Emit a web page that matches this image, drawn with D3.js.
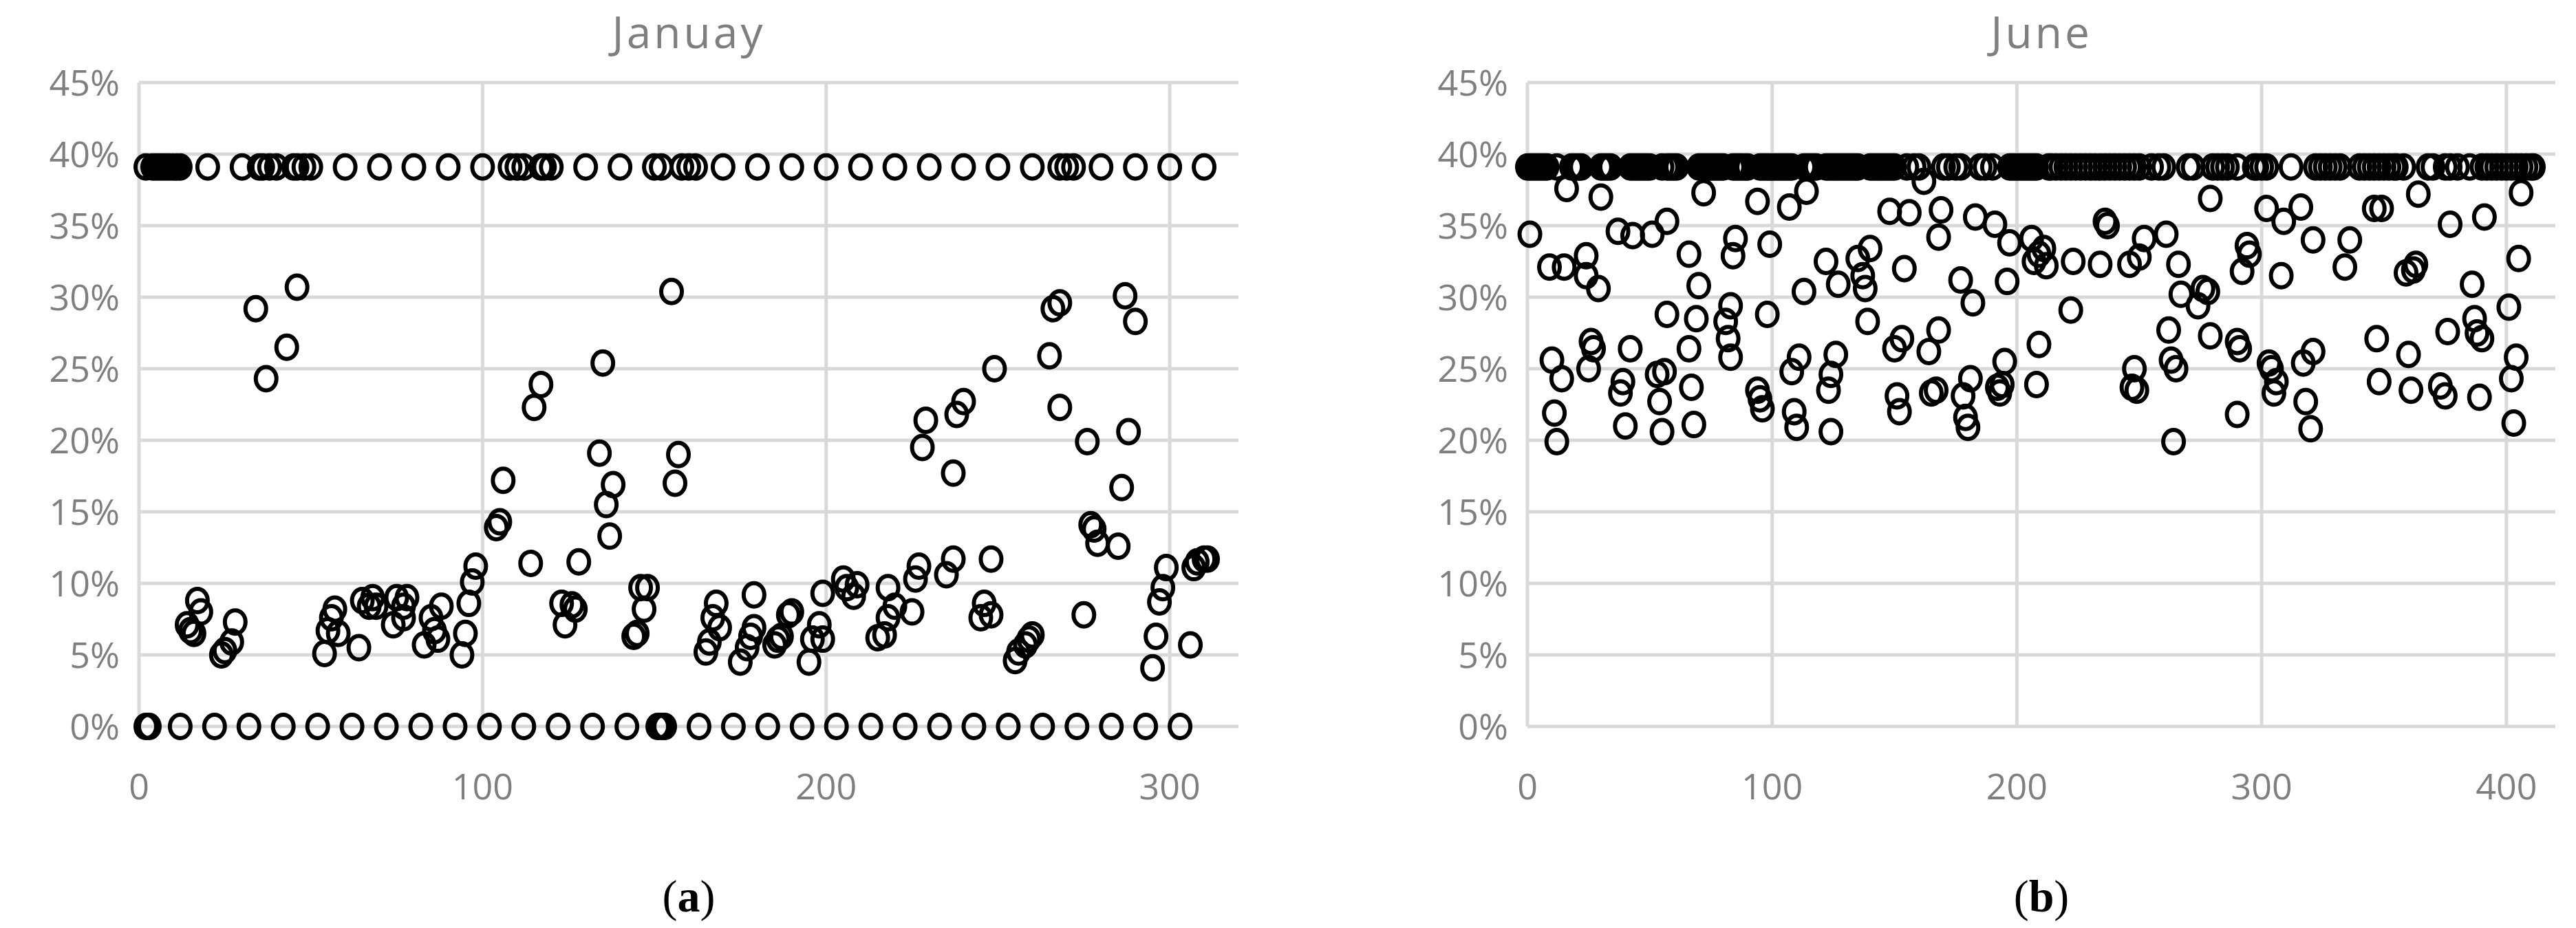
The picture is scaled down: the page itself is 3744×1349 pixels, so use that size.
<!DOCTYPE html>
<html>
<head>
<meta charset="utf-8">
<script src="https://cdn.jsdelivr.net/npm/d3@7"></script>
<style>
  body { margin: 0; background: #fff; }
  svg { display: block; }
</style>
</head>
<body>
<svg id="chart" width="3744" height="1349"></svg>
<script>
// January (a)
const janTopX = [2,4,5,6,7,8,9,10,11,12,20,30,35,36,38,40,45,46,48,50,60,70,80,90,100,108,110,112,117,118,120,130,140,150,152,158,160,162,170,180,190,200,210,220,230,240,250,260,268,270,272,280,290,300,310];
const janZeroX = [2,3,12,22,32,42,52,62,72,82,92,102,112,122,132,142,151,152,153,163,173,183,193,203,213,223,233,243,253,263,273,283,293,303];
const janMid = [
  [14,7.1],[16,6.5],[17,8.8],[18,8.0],[15,6.7],[24,5.0],[25,5.3],[27,5.9],[28,7.3],[34,29.2],[37,24.3],[43,26.5],[46,30.7],
  [54,5.1],[55,6.7],[56,7.6],[57,8.2],[58,6.5],[64,5.5],[65,8.8],[67,8.4],[68,9.0],[69,8.4],[74,7.1],[75,9.0],[77,7.6],[78,9.0],[77,8.4],
  [83,5.7],[85,7.6],[86,6.7],[87,6.1],[88,8.4],[94,5.0],[95,6.5],[96,8.6],[97,10.1],[98,11.2],[104,13.9],[105,14.3],[106,17.2],
  [114,11.4],[115,22.3],[117,23.9],[123,8.6],[124,7.1],[126,8.5],[127,8.2],[128,11.5],[134,19.1],[135,25.4],[136,15.5],[137,13.3],[138,16.9],
  [144,6.3],[145,6.5],[146,9.7],[147,8.2],[148,9.7],[155,30.4],[156,17.0],[157,19.0],[165,5.2],[166,5.9],[167,7.6],[168,8.6],[169,6.9],
  [175,4.5],[177,5.5],[178,6.3],[179,6.9],[179,9.2],[185,5.7],[186,6.1],[187,6.3],[189,7.8],[190,8.0],[195,4.5],[196,6.1],[198,7.1],[199,6.1],[199,9.3],
  [205,10.3],[206,9.7],[208,9.1],[209,9.9],[215,6.2],[217,6.4],[218,9.7],[218,7.6],[220,8.4],[225,8.0],[226,10.3],[227,11.2],[228,19.5],[229,21.4],
  [235,10.6],[237,11.7],[237,17.7],[238,21.8],[240,22.7],[245,7.6],[246,8.6],[248,7.8],[248,11.7],[249,25.0],[255,4.6],[256,5.2],[258,5.7],[259,6.1],[260,6.4],
  [265,25.9],[266,29.2],[268,29.6],[268,22.3],[275,7.8],[276,19.9],[277,14.1],[278,13.8],[279,12.8],[285,12.6],[286,16.7],[287,30.1],[288,20.6],[290,28.3],
  [295,4.1],[296,6.3],[297,8.7],[298,9.7],[299,11.1],[306,5.7],[307,11.1],[308,11.5],[310,11.7],[311,11.7]
];

// June (b)
const junTopX = [0,1,2,3,4,5,6,7,8,12,18,19,20,21,22,30,31,32,33,34,42,43,44,45,46,47,48,49,50,55,57,58,59,60,61,
  70,71,72,73,74,75,76,77,78,79,80,84,85,86,87,88,89,90,95,96,97,98,99,100,101,102,103,104,105,106,107,108,
  113,114,115,116,117,118,122,123,124,125,126,127,128,129,130,131,132,133,134,135,140,141,142,143,144,145,146,147,148,149,150,
  155,158,160,170,172,175,177,185,187,190,197,198,199,200,201,202,203,204,205,206,207,208,
  213,214,216,218,220,222,224,226,228,230,232,234,236,238,240,242,244,246,248,250,255,258,260,270,272,280,282,284,286,290,
  297,298,300,302,312,322,324,326,328,330,332,340,342,344,346,348,350,352,354,355,358,368,370,375,377,380,385,
  390,392,394,396,398,400,402,404,406,408,410,411];
const junMid = [
  [1,34.4],[9,32.1],[10,25.6],[11,21.9],[12,19.9],[14,24.3],[15,32.1],[16,37.6],[24,32.9],[24,31.5],[25,25.0],[26,26.9],[27,26.4],[29,30.6],[30,37.0],
  [37,34.6],[38,23.3],[39,24.1],[40,21.0],[42,26.4],[43,34.3],[51,34.4],[53,24.6],[54,22.7],[55,20.6],[56,24.8],[57,35.3],[57,28.8],
  [66,33.0],[66,26.4],[67,23.7],[68,21.1],[69,28.5],[70,30.8],[72,37.3],[81,28.3],[82,27.1],[83,29.4],[84,32.9],[85,34.1],[83,25.8],
  [94,36.7],[94,23.5],[95,22.9],[96,22.2],[98,28.8],[99,33.7],[107,36.3],[108,24.8],[109,22.0],[110,20.9],[111,25.8],[113,30.4],[114,37.4],
  [122,32.5],[123,23.5],[124,24.6],[124,20.6],[126,26.0],[127,30.9],[135,32.7],[137,31.5],[138,30.6],[139,28.3],[140,33.4],
  [148,36.0],[150,26.4],[151,23.1],[152,22.0],[153,27.1],[154,32.0],[156,35.9],[162,38.1],[164,26.2],[165,23.3],[167,23.5],[168,27.7],[168,34.2],[169,36.1],
  [177,31.2],[178,23.1],[179,21.6],[180,20.9],[181,24.3],[182,29.6],[183,35.6],[191,35.1],[192,23.7],[193,23.3],[194,23.9],[195,25.5],[196,31.1],[197,33.8],
  [206,34.1],[207,32.5],[208,23.9],[209,26.7],[209,33.0],[211,33.4],[212,32.2],[222,29.1],[223,32.5],[234,32.3],[236,35.3],[237,35.0],
  [246,32.3],[247,23.7],[249,23.5],[248,25.0],[250,32.8],[252,34.1],[261,34.4],[262,27.7],[263,25.6],[264,19.9],[265,25.0],[266,32.3],[267,30.2],
  [274,29.4],[276,30.6],[278,30.4],[279,27.3],[279,36.9],[290,26.9],[290,21.8],[291,26.4],[292,31.8],[294,33.6],[295,33.0],
  [302,36.2],[303,25.4],[304,25.0],[305,23.3],[306,24.1],[308,31.5],[309,35.3],[316,36.3],[317,25.4],[318,22.7],[320,20.8],[321,26.2],[321,34.0],
  [336,34.0],[334,32.1],[346,36.2],[347,27.1],[348,24.1],[349,36.2],[359,31.7],[360,26.0],[361,23.5],[362,31.9],[363,32.3],[364,37.2],
  [373,23.8],[375,23.1],[376,27.6],[377,35.1],[386,30.9],[387,28.5],[388,27.5],[390,27.1],[389,23.0],[391,35.6],
  [401,29.3],[402,24.3],[403,21.2],[404,25.8],[405,32.7],[406,37.3]
];

const yTicks = [0, 0.05, 0.10, 0.15, 0.20, 0.25, 0.30, 0.35, 0.40, 0.45];
const topValue = 0.391;

function toPoints(topX, zeroX, mid) {
  return topX.map(x => [x, topValue])
    .concat(zeroX.map(x => [x, 0]))
    .concat(mid.map(d => [d[0], d[1] / 100]));
}

const svg = d3.select("#chart");
const font = "'Open Sans', sans-serif";
const grey = "#7f7f7f";

function panel(opts) {
  const x = d3.scaleLinear().domain([0, opts.xMax]).range([opts.left, opts.right]);
  const y = d3.scaleLinear().domain([0, 0.45]).range([1056, 120]);
  const g = svg.append("g");

  g.selectAll(".hgrid").data(yTicks).enter().append("line")
    .attr("x1", opts.left).attr("x2", opts.right)
    .attr("y1", d => y(d)).attr("y2", d => y(d))
    .attr("stroke", "#d9d9d9").attr("stroke-width", 5);
  g.selectAll(".vgrid").data(opts.xTicks).enter().append("line")
    .attr("x1", d => x(d)).attr("x2", d => x(d))
    .attr("y1", y(0)).attr("y2", y(0.45))
    .attr("stroke", "#d9d9d9").attr("stroke-width", 5);

  g.selectAll(".ylab").data(yTicks).enter().append("text")
    .attr("x", opts.left - 28).attr("y", d => y(d) + 19)
    .attr("text-anchor", "end").attr("font-family", font).attr("font-size", 52)
    .attr("fill", grey).text(d => d3.format(".0%")(d));
  g.selectAll(".xlab").data(opts.xTicks).enter().append("text")
    .attr("x", d => x(d)).attr("y", 1162)
    .attr("text-anchor", "middle").attr("font-family", font).attr("font-size", 52)
    .attr("fill", grey).text(d => d);

  const cx = (opts.left + opts.right) / 2;
  g.append("text").attr("x", cx).attr("y", 70).attr("text-anchor", "middle")
    .attr("font-family", font).attr("font-size", 64).attr("letter-spacing", 4)
    .attr("fill", grey).text(opts.title);
  const lab = g.append("text").attr("x", cx).attr("y", 1325).attr("text-anchor", "middle")
    .attr("font-family", "'Liberation Serif', serif").attr("font-size", 66).attr("fill", "#000");
  lab.append("tspan").text("(");
  lab.append("tspan").attr("font-weight", "bold").text(opts.letter);
  lab.append("tspan").text(")");

  g.selectAll(".pt").data(opts.points).enter().append("ellipse")
    .attr("cx", d => x(d[0])).attr("cy", d => y(d[1]))
    .attr("rx", 15).attr("ry", 17)
    .attr("fill", "none").attr("stroke", "#000").attr("stroke-width", 6);
}

panel({ left: 202, right: 1800, xMax: 320, xTicks: [0, 100, 200, 300], title: "Januay", letter: "a",
        points: toPoints(janTopX, janZeroX, janMid) });
panel({ left: 2220, right: 3714, xMax: 420, xTicks: [0, 100, 200, 300, 400], title: "June", letter: "b",
        points: toPoints(junTopX, [], junMid) });
</script>
</body>
</html>
